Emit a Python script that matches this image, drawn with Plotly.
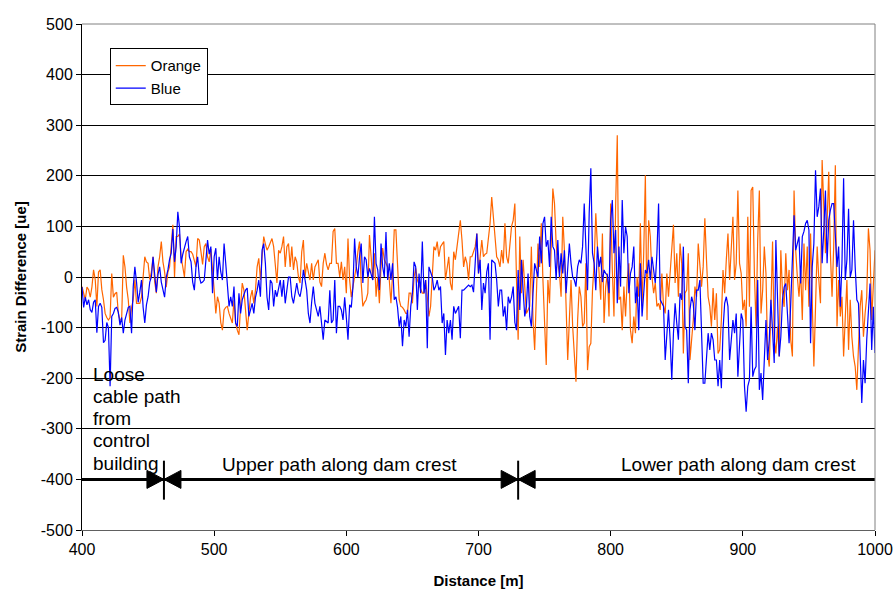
import numpy as np
import plotly.graph_objects as go

# ---------------- data (strain difference) ----------------
distance = np.arange(400, 1000.001, 1.25)  # sampling grid along the cable [m]

orange_seg1 = [-19,-30,-45,-20,-25,-40,-20,14,-5,-58,
               10,14,-25,-45,-72,-80,-85,-80,7,-40,
               -33,-30,-72,-85,-85,43,20,-20,-45,-91,
               -60,-45,-5,-52,-52,-52,-40,0,40,30,
               27,-5,10,40,-10,-32,20,40,70,30,
               10,-20,10,20,60,103,0,80,80,85,
               40,20,0,50,55,50,50,45,30,20,
               76,73,50,25,60,66,40,30]
orange_seg2 = [55,20,-26,-72,-39,-52,-90,-105,-65,-60,
               -58,-72,-80,-91,-45,-91,-105,-114,-58,-12,
               -26,-60,-105,-72,-40,-26,-52,-26,20,37,
               -6,40,80,65,53,60,70,76,60,20,
               -12,53,47,60,80,20,60,66,20,60,
               14,40,30,0,-12,50,73,0,27,10,
               -6,27,-6,20,27,34,-10,-19,27,47,
               25,14,27,27,90,96,27,27,0]
orange_seg3 = [30,-6,20,-32,76,-6,-40,-19,0,20,
               50,70,-12,-58,-50,-45,-32,83,40,-6,
               47,-39,0,-52,20,57,34,27,20,-6,
               -52,7,93,93,14,-45,-58,-60,-65,-72,
               -72,-32,-32,-52,0,17,-6,-15,-26,-32,
               -32,-6,-39,-78,-58,-6,60,53,70,40,
               60,65,70,-6,20,40,-12,-26,50,34,
               60,93,112,73,20,40,27,-6,40]
orange_seg4 = [40,50,60,86,7,40,73,40,45,47,
               73,106,158,112,73,40,34,20,53,27,
               106,40,27,73,100,112,145,-6,-124,80,
               -32,34,-12,-72,-65,-58,60,-85,-144,-19,
               66,20,106,-6,-98,-174,-6,-52,60,175,
               145,66,27,7,-39,119,53,-58,-164,-85,
               -6,-98,-157,-207,-85,-19,-39,-98,-91,27,
               -184,-138,-131,-26,27,126,60,7,-45]
orange_seg5 = [86,-91,-19,7,-78,145,14,-78,139,280,
               -45,-39,-105,-19,-78,-6,27,-105,-131,-78,
               -111,0,-39,106,-58,47,201,-85,112,80,
               0,-32,-12,-58,-52,-65,7,-58,-72,7,
               -39,7,73,103,-12,47,-39,66,27,-151,
               -32,-26,47,-164,-124,-85,-19,-39,66,14,
               -19,20,116,34,-39,-58,-98,-22,-85,-32,
               -151,-144,-85,14,-32,34,86,-6]
orange_seg6 = [60,119,-6,27,171,27,7,-65,-45,-98,
               119,-59,171,178,7,-98,73,171,-72,-26,
               60,7,-151,-177,-59,70,-124,-151,-98,-157,
               53,-32,-59,47,-26,14,-124,-157,171,53,
               0,-39,14,-85,66,-26,60,-59,86,-26,
               -177,-59,60,-6,-52,231,139,47,106,208,
               47,-39,60,221,-98,-6,-78,-39,-157,-78,
               -6,-144,-45,-118,-157,-177,-223,-137,-59,-26,
               -118,-72,-39,96,53,-85,-20,53]

blue_seg1 = [-20,-60,-40,-55,-45,-65,-70,-50,-45,-110,
             -58,-52,-60,-130,-125,-90,-100,-216,-78,-72,
             -62,-60,-70,-95,-80,-111,-85,-70,-60,-58,
             -111,-20,20,-10,-50,-30,-6,-60,-91,-55,
             -39,-10,0,40,10,-30,5,20,-10,-25,
             -40,0,14,35,47,95,30,60,129,99,
             27,45,60,70,80,40,30,-10,-26,20,
             40,0,-12,-10,-6,30,73,45]
blue_seg2 = [60,-32,40,57,-6,40,10,-6,66,27,
             -26,-58,-39,-58,-19,-91,-98,-32,-72,-45,
             -35,-26,-22,-78,-65,-52,-72,-40,-26,-6,
             -39,53,66,27,-40,-65,-6,-12,-58,-26,
             -39,-20,-6,-39,-6,-52,-30,0,0,-39,
             -52,-30,-12,-32,-39,-20,14,-5,-26,-72,
             -91,-50,-19,-52,-65,-78,-58,-90,-124,-85,
             -88,-91,-26,-91,-85,-6,-111,-58,-58]
blue_seg3 = [-65,-85,-40,-80,-124,-55,-60,-20,76,20,
             0,40,66,-12,40,34,0,17,5,-6,
             119,27,14,-26,66,20,0,89,-6,27,
             -6,27,-45,-39,-60,-98,-78,-137,-85,-98,
             -65,-118,-58,-32,30,20,-65,7,-32,70,
             -32,-6,-141,20,10,0,-26,-19,-6,-26,
             -19,-91,-72,-154,-85,-111,-85,-124,-58,-72,
             -65,-58,-121,-26,-26,-22,-19,-16,-19]
blue_seg4 = [-16,-30,40,86,7,34,-65,-12,-32,10,
             27,-124,34,30,27,-6,-58,-26,-26,-78,
             -58,-105,-39,-52,-40,-19,-90,-105,14,-65,
             34,-26,-78,-58,7,-78,-98,-32,27,14,
             0,80,27,106,119,60,73,20,119,60,
             53,-6,73,0,47,7,53,-32,27,66,
             27,0,-6,-19,20,34,27,60,145,47,
             -26,126,215,47,27,-26,60,20,40]
blue_seg5 = [-10,14,7,4,-32,112,152,47,93,-52,
             60,-19,152,47,99,80,-32,7,20,60,
             -52,-19,-105,27,-78,-26,14,7,34,-6,
             40,14,-12,47,145,-45,-52,-58,-164,-111,
             -65,-124,-203,-111,-52,-91,-124,-32,-45,60,
             -98,-105,-210,-65,-39,-52,-105,-26,-26,-6,
             -98,-210,-210,-151,-111,-144,-111,-124,-164,-164,
             -216,-164,-220,-105,-52,-39,-58,-164]
blue_seg6 = [-125,-85,-111,-72,-197,-124,-72,-85,-216,-266,
             -216,-203,-59,-197,-183,-177,-6,-223,-190,-243,
             -177,-85,-164,-124,-45,-111,-170,73,-52,-157,
             -118,-45,-20,-13,-72,-131,-52,20,122,53,
             66,80,-13,80,90,106,112,93,-131,20,
             66,211,119,139,175,27,93,171,27,112,
             132,145,145,73,20,60,-59,27,195,-6,
             34,135,0,14,112,20,-45,-52,-157,-249,
             -164,-210,-124,-59,-13,-144,-59,-150]

orange = orange_seg1 + orange_seg2 + orange_seg3 + orange_seg4 + orange_seg5 + orange_seg6
blue = blue_seg1 + blue_seg2 + blue_seg3 + blue_seg4 + blue_seg5 + blue_seg6
assert len(orange) == len(distance) == len(blue)

series_names = ["Orange", "Blue"]
series_colors = ["#FF6600", "#0000FF"]

# cable path sections
section_bounds = [462, 730]
path_level = -400
loose_label_lines = ["Loose", "cable path", "from", "control", "building"]
upper_label = "Upper path along dam crest"
lower_label = "Lower path along dam crest"

x_ticks = [400, 500, 600, 700, 800, 900, 1000]
y_ticks = list(range(-500, 501, 100))
y_ticktext = [str(v) for v in y_ticks]  # plain hyphen minus as in reference

FONT = "Arial, 'Liberation Sans', sans-serif"

# ---------------- figure ----------------
fig = go.Figure()
for name, vals, col in zip(series_names, [orange, blue], series_colors):
    fig.add_trace(go.Scatter(x=distance, y=vals, mode="lines", name=name,
                             line=dict(color=col, width=1.2)))

shapes = []
# thick horizontal path line
shapes.append(dict(type="line", xref="x", yref="y", x0=400, x1=1000,
                   y0=path_level, y1=path_level, line=dict(color="black", width=3)))
for b in section_bounds:
    shapes.append(dict(type="line", xref="x", yref="y", x0=b, x1=b,
                       y0=path_level + 37, y1=path_level - 40,
                       line=dict(color="black", width=2)))
    for path in ["M -17,-9 L 0,0 L -17,9 Z", "M 17,-9 L 0,0 L 17,9 Z"]:
        shapes.append(dict(type="path", xref="x", yref="y",
                           xsizemode="pixel", ysizemode="pixel",
                           xanchor=b, yanchor=path_level, path=path,
                           fillcolor="black", line=dict(color="black", width=1)))
# top and right plot border (grey)
shapes.append(dict(type="path", xref="paper", yref="paper",
                   path="M 0,1 L 1,1 L 1,0", line=dict(color="#808080", width=1)))

annotations = []
loose_y = [-192, -236, -280, -324, -368]
for txt, yy in zip(loose_label_lines, loose_y):
    annotations.append(dict(x=406.5, y=yy, xref="x", yref="y", text=txt,
                            showarrow=False, xanchor="left", yanchor="middle",
                            font=dict(family=FONT, size=19, color="black")))
annotations.append(dict(x=595, y=-370, xref="x", yref="y", text=upper_label,
                        showarrow=False, xanchor="center", yanchor="middle",
                        font=dict(family=FONT, size=19, color="black")))
annotations.append(dict(x=897, y=-371, xref="x", yref="y", text=lower_label,
                        showarrow=False, xanchor="center", yanchor="middle",
                        font=dict(family=FONT, size=19, color="black")))

fig.update_layout(
    width=894, height=590,
    margin=dict(l=82, r=19, t=24, b=60, autoexpand=False),
    paper_bgcolor="white", plot_bgcolor="white",
    font=dict(family=FONT, size=15, color="black"),
    shapes=shapes, annotations=annotations,
    legend=dict(x=0.035, y=0.952, xanchor="left", yanchor="top",
                bgcolor="white", bordercolor="black", borderwidth=1,
                font=dict(family=FONT, size=15), itemwidth=30,
                tracegroupgap=0),
    xaxis=dict(range=[400, 1000], tickvals=x_ticks, showgrid=False,
               zeroline=False, showline=True, linecolor="#606060", linewidth=1,
               ticks="outside", ticklen=5, tickcolor="black",
               tickfont=dict(family=FONT, size=16),
               title=dict(text="<b>Distance [m]</b>", standoff=18,
                          font=dict(family=FONT, size=15))),
    yaxis=dict(range=[-500, 500], tickvals=y_ticks, ticktext=y_ticktext,
               showgrid=True, gridcolor="black", gridwidth=1, zeroline=False,
               showline=True, linecolor="black", linewidth=1,
               ticks="outside", ticklen=5, tickcolor="black",
               tickfont=dict(family=FONT, size=16),
               title=dict(text="<b>Strain Difference [ue]</b>", standoff=10,
                          font=dict(family=FONT, size=15))),
)

fig.write_html("out.html")
